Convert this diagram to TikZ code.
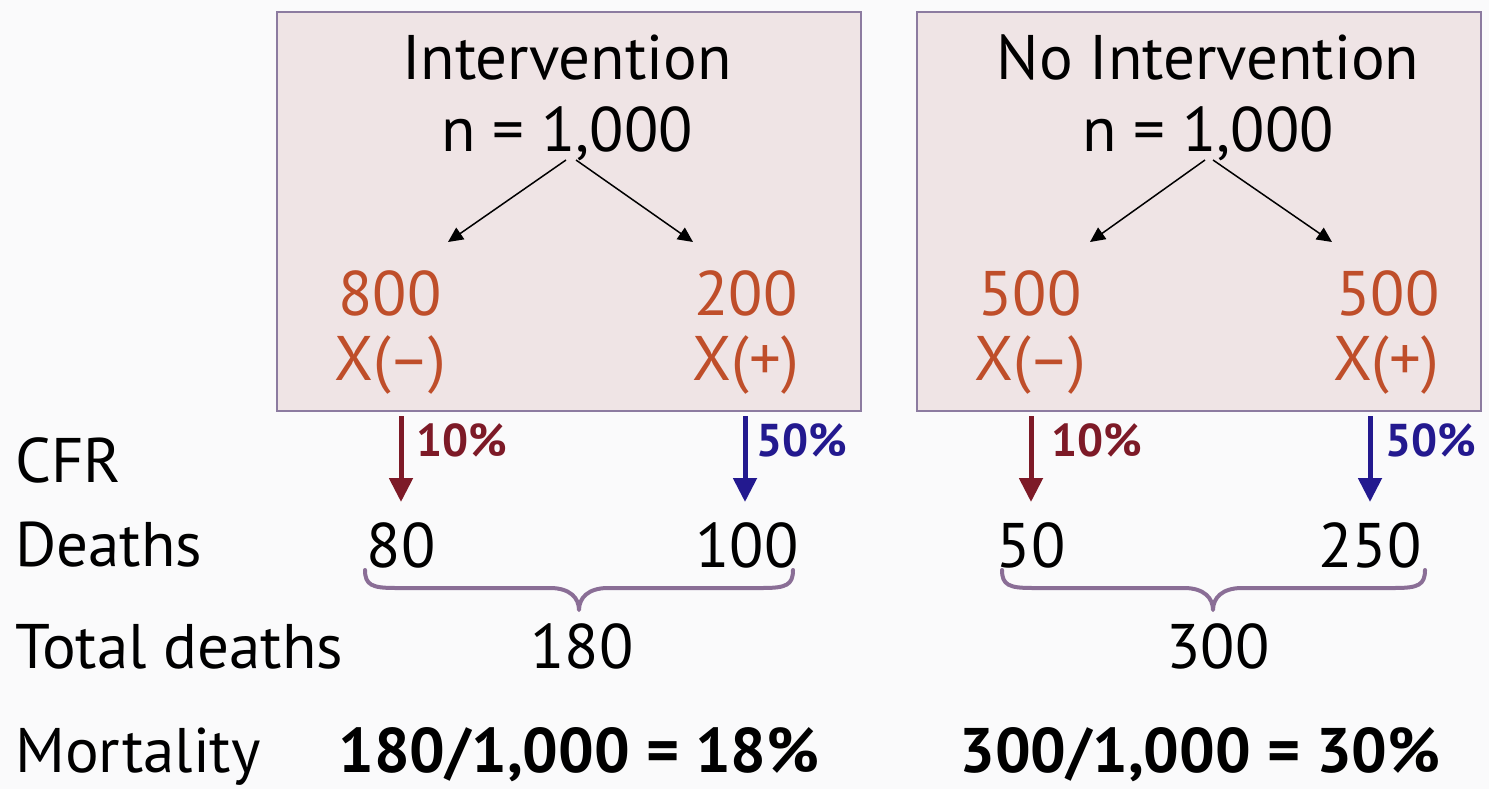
\documentclass[tikz,border=0pt]{standalone}
\usepackage{fontspec}
\setmainfont{PT Sans}
\usetikzlibrary{arrows.meta}
\definecolor{bgc}{HTML}{FAFAFB}
\definecolor{boxfill}{HTML}{EFE4E5}
\definecolor{boxline}{HTML}{8C7BA0}
\definecolor{orangec}{HTML}{BF4E2A}
\definecolor{redc}{HTML}{7D1A27}
\definecolor{bluec}{HTML}{23198F}
\definecolor{bracec}{HTML}{8A6E96}
\begin{document}
\begin{tikzpicture}[x=1pt,y=-1pt,
  big/.style={font=\fontsize{63}{70}\selectfont, inner sep=0pt, anchor=base},
  orng/.style={big, text=orangec},
  pct/.style={font=\fontsize{46}{50}\selectfont\bfseries, inner sep=0pt, anchor=base west},
  lbl/.style={big, anchor=base west},
  mort/.style={font=\fontsize{63}{70}\selectfont\bfseries, inner sep=0pt, anchor=base},
  groupbox/.style={draw=boxline, fill=boxfill, line width=2pt, inner sep=0pt, anchor=north west},
  split/.style={-{Triangle[length=15pt,width=14pt]}, line width=1.5pt, black},
  cfrred/.style={-{Triangle[length=24pt,width=23pt]}, line width=5pt, redc},
  cfrblue/.style={-{Triangle[length=24pt,width=23pt]}, line width=5pt, bluec},
  bracestyle/.style={draw=bracec, line width=4pt, line cap=round, line join=round}
]
\useasboundingbox[fill=bgc] (0,0) rectangle (1489,789);

% boxes
\node[groupbox, minimum width=584pt, minimum height=399pt] (boxA) at (276,11) {};
\node[groupbox, minimum width=564pt, minimum height=399pt] (boxB) at (916,11) {};

% box A
\node[big] (titleA) at (567,80) {Intervention};
\node[big] (nA) at (567,152) {n = 1,000};
\node[orng] (aL1) at (390,315) {800};
\node[orng] (aL2) at (390,380) {X(–)};
\node[orng] (aR1) at (746,315) {200};
\node[orng] (aR2) at (746,380) {X(+)};
\coordinate (aS1) at (566,160);
\coordinate (aT1) at (448,242);
\coordinate (aS2) at (576,160);
\coordinate (aT2) at (693,242);
\draw[split] (aS1) -- (aT1);
\draw[split] (aS2) -- (aT2);

% box B
\node[big] (titleB) at (1208,80) {No Intervention};
\node[big] (nB) at (1208,152) {n = 1,000};
\node[orng] (bL1) at (1030,315) {500};
\node[orng] (bL2) at (1030,380) {X(–)};
\node[orng] (bR1) at (1388,315) {500};
\node[orng] (bR2) at (1386,380) {X(+)};
\coordinate (bS1) at (1205,160);
\coordinate (bT1) at (1090,242);
\coordinate (bS2) at (1213,160);
\coordinate (bT2) at (1332,242);
\draw[split] (bS1) -- (bT1);
\draw[split] (bS2) -- (bT2);

% row labels
\node[lbl] (cfr) at (15,482) {CFR};
\node[lbl] (deaths) at (15,566) {Deaths};
\node[lbl] (total) at (15,668) {Total deaths};
\node[lbl] (mortality) at (15,772) {Mortality};

% CFR arrows
\coordinate (c1s) at (401,416); \coordinate (c1e) at (401,502);
\coordinate (c2s) at (745,416); \coordinate (c2e) at (745,502);
\coordinate (c3s) at (1031,416); \coordinate (c3e) at (1031,502);
\coordinate (c4s) at (1370,416); \coordinate (c4e) at (1370,502);
\draw[cfrred] (c1s) -- (c1e);
\draw[cfrblue] (c2s) -- (c2e);
\draw[cfrred] (c3s) -- (c3e);
\draw[cfrblue] (c4s) -- (c4e);
\node[pct, text=redc] (p1) at (416,456) {10\%};
\node[pct, text=bluec] (p2) at (756,456) {50\%};
\node[pct, text=redc] (p3) at (1051,456) {10\%};
\node[pct, text=bluec] (p4) at (1385,456) {50\%};

% deaths
\node[big] (d1) at (401,567) {80};
\node[big] (d2) at (747,567) {100};
\node[big] (d3) at (1031,567) {50};
\node[big] (d4) at (1370,567) {250};

% braces
\draw[bracestyle] (365,570) .. controls (365,585) and (372,588) .. (395,588)
  -- (550,588) .. controls (570,588) and (579,598) .. (579,610)
  .. controls (579,598) and (588,588) .. (608,588)
  -- (763,588) .. controls (786,588) and (793,585) .. (793,570);
\draw[bracestyle] (1002,570) .. controls (1002,585) and (1009,588) .. (1032,588)
  -- (1184,588) .. controls (1204,588) and (1213,598) .. (1213,610)
  .. controls (1213,598) and (1222,588) .. (1242,588)
  -- (1395,588) .. controls (1418,588) and (1425,585) .. (1425,570);

% totals
\node[big] (t1) at (582,668) {180};
\node[big] (t2) at (1218,668) {300};

% mortality
\node[mort] (m1) at (579,772) {180/1,000 = 18\%};
\node[mort] (m2) at (1200,772) {300/1,000 = 30\%};
\end{tikzpicture}
\end{document}
